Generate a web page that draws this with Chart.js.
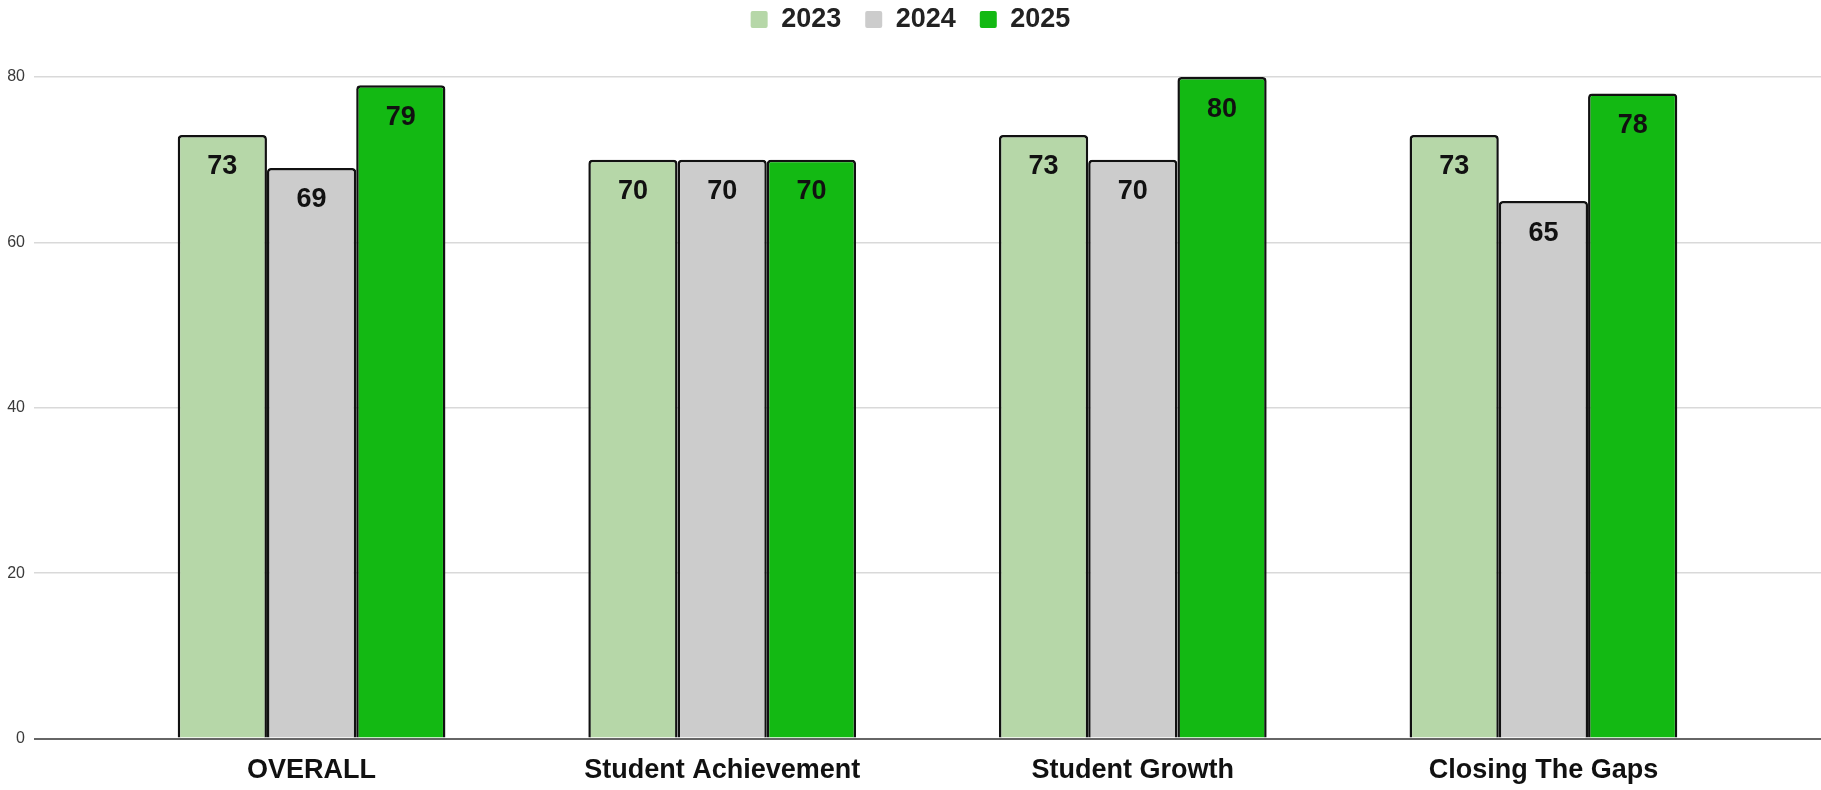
<!DOCTYPE html>
<html>
<head>
<meta charset="utf-8">
<script src="https://cdn.jsdelivr.net/npm/chart.js@4.4.1/dist/chart.umd.min.js"></script>
<style>
  html, body { margin: 0; padding: 0; background: #ffffff; }
  #wrap { width: 1821px; height: 790px; position: relative; }
</style>
</head>
<body>
<div id="wrap"><canvas id="chart"></canvas></div>
<script>
// Categories and yearly scores
const categories = ['OVERALL', 'Student Achievement', 'Student Growth', 'Closing The Gaps'];
const years = ['2023', '2024', '2025'];
const scores2023 = [73, 70, 73, 73];
const scores2024 = [69, 70, 70, 65];
const scores2025 = [79, 70, 80, 78];
const yTickValues = [0, 20, 40, 60, 80];

const FONT = "'Liberation Sans', Arial, Helvetica, sans-serif";
const fills = ['#b6d7a8', '#cccccc', '#13b913'];

const series = [scores2023, scores2024, scores2025];

// Value labels inside the top of every bar
const barValueLabels = {
  id: 'barValueLabels',
  afterDatasetsDraw(chart) {
    const ctx = chart.ctx;
    ctx.save();
    ctx.font = 'bold 27px ' + FONT;
    ctx.fillStyle = '#111111';
    ctx.textAlign = 'center';
    ctx.textBaseline = 'alphabetic';
    chart.data.datasets.forEach((ds, di) => {
      const meta = chart.getDatasetMeta(di);
      meta.data.forEach((bar, i) => {
        const v = ds.data[i].y;
        ctx.fillText(String(v), bar.x, bar.y + 39.5);
      });
    });
    ctx.restore();
  }
};

// Extra room between the legend and the plot
const legendSpacing = {
  id: 'legendSpacing',
  beforeUpdate(chart) {
    const legend = chart.legend;
    if (legend && !legend._spaced) {
      const fit = legend.fit;
      legend.fit = function () {
        fit.call(this);
        this.height += 34;
      };
      legend._spaced = true;
    }
  }
};

const chart = new Chart(document.getElementById('chart'), {
  type: 'bar',
  data: {
    datasets: years.map((yr, k) => ({
      label: yr,
      data: series[k].map((v, i) => ({ x: i, y: v })),
      backgroundColor: fills[k],
      borderColor: '#111111',
      borderWidth: 2.5,
      borderRadius: 4,
      borderSkipped: 'bottom',
      categoryPercentage: 0.652,
      barPercentage: 1.0
    }))
  },
  options: {
    responsive: true,
    maintainAspectRatio: false,
    animation: false,
    devicePixelRatio: 1,
    layout: { padding: { top: -18, left: 0, right: 0, bottom: -12 } },
    plugins: {
      tooltip: { enabled: false },
      legend: {
        position: 'top',
        align: 'center',
        labels: {
          boxWidth: 17,
          boxHeight: 17,
          padding: 24,
          color: '#222222',
          font: { family: FONT, size: 27, weight: 'bold' },
          useBorderRadius: true,
          borderRadius: 2,
          generateLabels(ch) {
            return Chart.defaults.plugins.legend.labels.generateLabels(ch).map(l => ({
              ...l, lineWidth: 0, strokeStyle: 'rgba(0,0,0,0)'
            }));
          }
        }
      }
    },
    scales: {
      x: {
        type: 'linear',
        bounds: 'data',
        offset: false,
        min: -0.676,
        max: 3.676,
        afterBuildTicks(scale) {
          scale.ticks = categories.map((_, i) => ({ value: i }));
        },
        grid: { display: false, drawTicks: false },
        border: { display: false },
        ticks: {
          autoSkip: false,
          maxRotation: 0,
          padding: 15.5,
          color: '#111111',
          font: { family: FONT, size: 27, weight: 'bold' },
          callback: (v) => categories[Math.round(v)] ?? ''
        }
      },
      y: {
        min: 0,
        max: 80,
        afterBuildTicks(scale) {
          scale.ticks = yTickValues.map(v => ({ value: v }));
        },
        afterFit(scale) { scale.width = 34; },
        border: { display: false },
        grid: {
          drawTicks: false,
          color: (c) => (c.tick && c.tick.value === 0) ? '#666666' : '#d9d9d9',
          lineWidth: (c) => (c.tick && c.tick.value === 0) ? 2 : 1.5
        },
        ticks: {
          padding: 9,
          color: '#3a3a3a',
          font: { family: FONT, size: 16 }
        }
      }
    }
  },
  plugins: [barValueLabels, legendSpacing]
});
</script>
</body>
</html>
